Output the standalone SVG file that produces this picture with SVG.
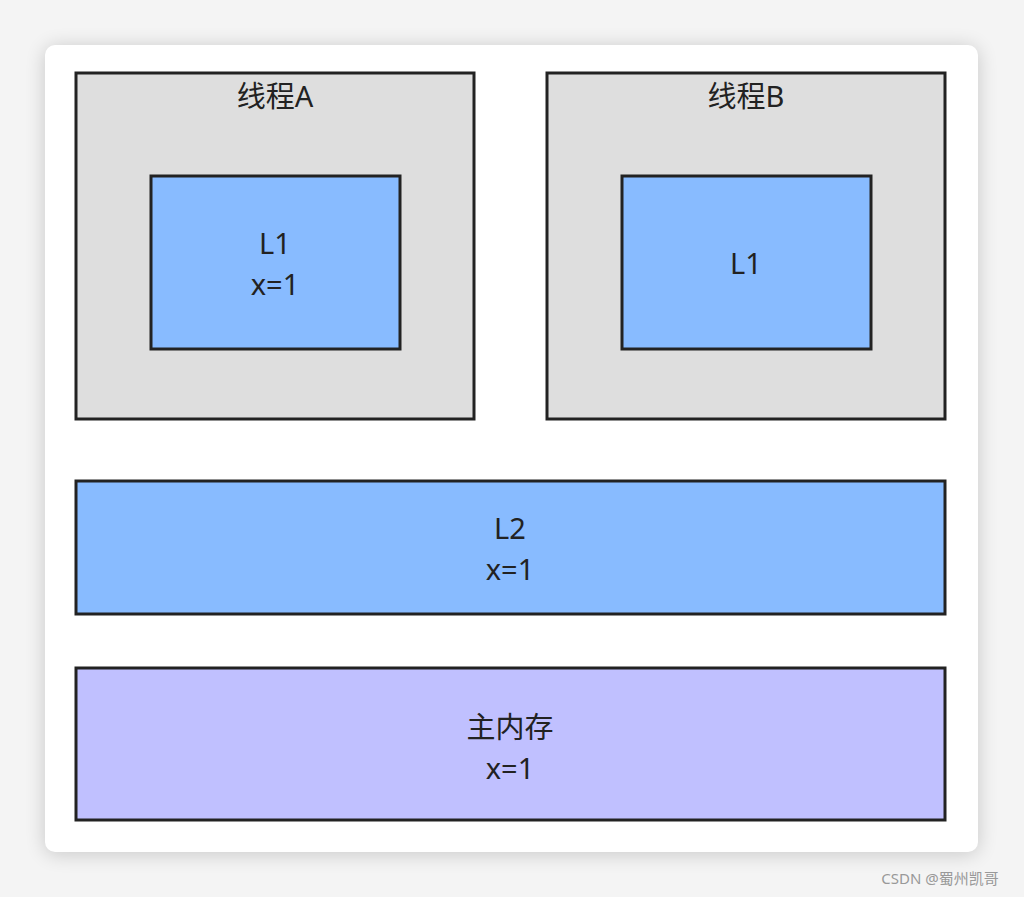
<svg xmlns="http://www.w3.org/2000/svg" width="1024" height="897" viewBox="0 0 1024 897">
<defs>
<filter id="sh" x="-10%" y="-10%" width="120%" height="120%"><feGaussianBlur stdDeviation="10"/></filter>
<style>
.b{stroke:#222;stroke-width:3}
.t{font-family:"Noto Sans","Noto Sans CJK SC",sans-serif;font-size:29px;fill:#222;text-anchor:middle}
</style>
</defs>
<rect width="1024" height="897" fill="#f4f4f4"/>
<rect x="45" y="47" width="933" height="807" rx="10" fill="#000" opacity="0.18" filter="url(#sh)"/>
<rect x="45" y="45" width="933" height="807" rx="10" fill="#fff"/>
<g id="threadA"><rect class="b" x="76" y="73" width="398" height="346" fill="#dedede"/><text class="t" x="275" y="107">线程A</text></g>
<g id="L1A"><rect class="b" x="151" y="176" width="249" height="173" fill="#88bbff"/><text class="t" x="275" y="254">L1</text><text class="t" x="275" y="295">x=1</text></g>
<g id="threadB"><rect class="b" x="547" y="73" width="398" height="346" fill="#dedede"/><text class="t" x="746" y="107">线程B</text></g>
<g id="L1B"><rect class="b" x="622" y="176" width="249" height="173" fill="#88bbff"/><text class="t" x="746" y="274">L1</text></g>
<g id="L2"><rect class="b" x="76" y="481" width="869" height="133" fill="#88bbff"/><text class="t" x="510" y="539">L2</text><text class="t" x="510" y="580">x=1</text></g>
<g id="mem"><rect class="b" x="76" y="668" width="869" height="152" fill="#c0c0ff"/><text class="t" x="510" y="738">主内存</text><text class="t" x="510" y="779">x=1</text></g>
<g id="connectors"/>
<text x="940" y="884" font-family="Noto Sans,Noto Sans CJK SC,sans-serif" font-size="15" fill="#999" text-anchor="middle">CSDN @蜀州凯哥</text>
</svg>
